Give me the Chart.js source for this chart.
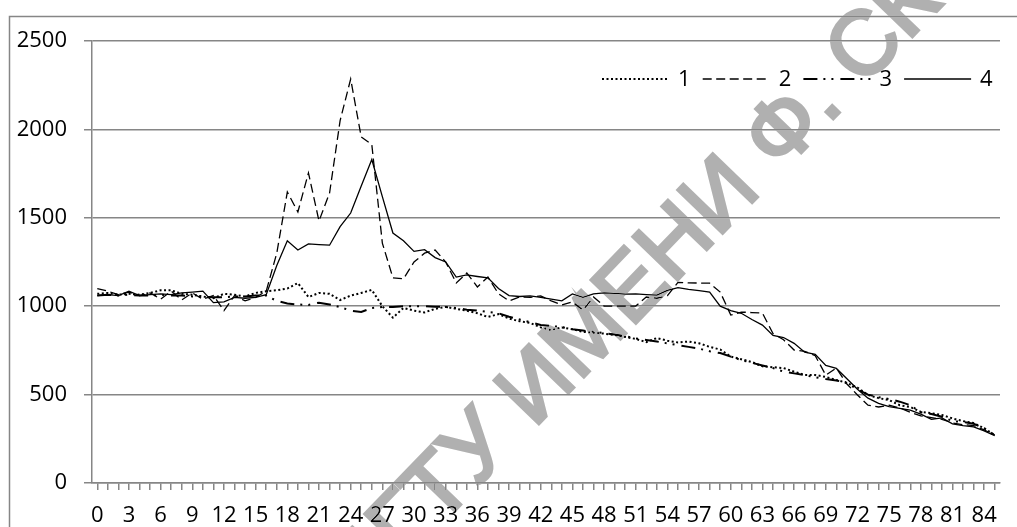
<!DOCTYPE html>
<html>
<head>
<meta charset="utf-8">
<script src="https://cdn.jsdelivr.net/npm/chart.js@4.4.1/dist/chart.umd.min.js"></script>
<style>
    html, body { margin: 0; padding: 0; background: #fff; }
    #wrap { width: 1017px; height: 527px; }
</style>
</head>
<body>
<div id="wrap"><canvas id="lineChart" width="1017" height="527"></canvas></div>
<script>
// x categories
const categories = [0, 1, 2, 3, 4, 5, 6, 7, 8, 9, 10, 11, 12, 13, 14, 15, 16, 17, 18, 19, 20,
    21, 22, 23, 24, 25, 26, 27, 28, 29, 30, 31, 32, 33, 34, 35, 36, 37, 38, 39, 40, 41, 42,
    43, 44, 45, 46, 47, 48, 49, 50, 51, 52, 53, 54, 55, 56, 57, 58, 59, 60, 61, 62, 63, 64,
    65, 66, 67, 68, 69, 70, 71, 72, 73, 74, 75, 76, 77, 78, 79, 80, 81, 82, 83, 84, 85];

const seriesNames = ['1', '2', '3', '4'];

// series 1 (dotted)
const series1 = [1070, 1075, 1065, 1070, 1065, 1075, 1090, 1090, 1070, 1065, 1055, 1045, 1070, 1065,
    1055, 1075, 1085, 1090, 1100, 1131, 1052, 1075, 1070, 1035, 1060, 1075, 1092, 1000, 935, 990,
    975, 965, 985, 996, 985, 975, 960, 939, 955, 930, 915, 905, 880, 865, 880, 870, 855, 850, 845,
    837, 826, 815, 797, 820, 805, 795, 800, 790, 770, 755, 715, 700, 684, 660, 655, 650, 630, 611,
    611, 600, 583, 566, 540, 498, 480, 469, 440, 430, 402, 395, 385, 365, 350, 339, 310, 271];

// series 2 (dashed)
const series2 = [1100, 1085, 1065, 1080, 1060, 1075, 1040, 1085, 1035, 1075, 1040, 1060, 975, 1060,
    1030, 1050, 1085, 1300, 1646, 1533, 1754, 1482, 1640, 2050, 2285, 1957, 1915, 1357, 1160, 1155,
    1250, 1300, 1318, 1250, 1131, 1188, 1109, 1165, 1070, 1030, 1052, 1050, 1058, 1030, 1007, 1024,
    978, 1052, 1001, 1000, 1000, 1001, 1052, 1045, 1060, 1135, 1132, 1131, 1130, 1080, 950, 967,
    964, 961, 845, 810, 752, 745, 720, 610, 650, 560, 498, 440, 430, 440, 425, 400, 380, 370, 360,
    340, 330, 325, 300, 272];

// series 3 (dash-dot-dot)
const series3 = [1060, 1065, 1060, 1065, 1060, 1060, 1065, 1060, 1060, 1055, 1055, 1050, 1050, 1055,
    1055, 1060, 1060, 1030, 1015, 1010, 1007, 1020, 1010, 995, 975, 967, 990, 996, 996, 1000, 1000,
    1000, 997, 996, 990, 980, 975, 967, 960, 940, 925, 910, 894, 888, 882, 870, 862, 855, 848, 840,
    830, 818, 809, 800, 790, 780, 770, 760, 745, 735, 715, 695, 680, 665, 650, 630, 620, 610, 598,
    588, 580, 566, 530, 500, 485, 475, 460, 440, 400, 390, 375, 350, 345, 335, 310, 268];

// series 4 (solid)
const series4 = [1060, 1065, 1060, 1085, 1060, 1065, 1070, 1065, 1075, 1080, 1085, 1020, 1025, 1050,
    1045, 1050, 1065, 1230, 1370, 1318, 1352, 1348, 1345, 1450, 1527, 1680, 1830, 1620, 1414, 1370,
    1310, 1320, 1275, 1250, 1165, 1177, 1168, 1160, 1100, 1060, 1055, 1058, 1050, 1040, 1030, 1069,
    1050, 1070, 1075, 1072, 1068, 1070, 1066, 1063, 1090, 1105, 1095, 1088, 1080, 1000, 975, 960,
    925, 893, 835, 823, 790, 740, 728, 665, 648, 590, 530, 480, 450, 432, 422, 412, 390, 360, 368,
    335, 325, 317, 295, 268];

const watermarkPre = 'БГТУ ';
const watermarkText = 'БГТУ ИМЕНИ Ф. СКОРИНЫ';

document.addEventListener('DOMContentLoaded', function() {
    const fontFamily = '"Open Sans", "Noto Sans", sans-serif';
    const gridColor = '#868686';

    // frame round the whole chart (cut off at right and bottom like the source)
    const framePlugin = {
        id: 'frame',
        beforeDraw(chart) {
            const ctx = chart.ctx;
            ctx.save();
            ctx.fillStyle = '#fff';
            ctx.fillRect(0, 0, chart.width, chart.height);
            ctx.strokeStyle = gridColor;
            ctx.lineWidth = 1.5;
            ctx.strokeRect(9.5, 16.5, chart.width + 20, chart.height + 20);
            ctx.restore();
        }
    };

    // legend inside the plot: line sample first, then the name
    const insideLegend = {
        id: 'insideLegend',
        afterDatasetsDraw(chart) {
            const ctx = chart.ctx;
            const y = 79;
            let x = 602;
            ctx.save();
            chart.data.datasets.forEach(ds => {
                ctx.beginPath();
                ctx.setLineDash(ds.borderDash || []);
                ctx.lineWidth = ds.borderWidth;
                ctx.strokeStyle = ds.borderColor;
                ctx.moveTo(x, y);
                ctx.lineTo(x + 67, y);
                ctx.stroke();
                ctx.setLineDash([]);
                ctx.fillStyle = '#000';
                ctx.font = '22px ' + fontFamily;
                ctx.textBaseline = 'middle';
                ctx.textAlign = 'left';
                ctx.fillText(ds.label, x + 76, y + 1);
                x += 100.7;
            });
            ctx.restore();
        }
    };

    // grey diagonal watermark over everything ('darken' keeps black lines black)
    const watermark = {
        id: 'watermark',
        afterDraw(chart) {
            const ctx = chart.ctx;
            const ang = -46 * Math.PI / 180;
            const size = 90;
            ctx.save();
            ctx.globalCompositeOperation = 'darken';
            ctx.font = size + 'px "Liberation Sans", sans-serif';
            ctx.fillStyle = '#b0b0b0';
            ctx.strokeStyle = '#b0b0b0';
            ctx.lineWidth = 3.5;
            ctx.textBaseline = 'alphabetic';
            const pre = ctx.measureText(watermarkPre).width;
            const wI = ctx.measureText('И').width;
            const ux = Math.cos(ang), uy = Math.sin(ang);
            const nx = -uy, ny = ux;
            const capH = 0.716 * size;
            // centre of the first "И" sits at (533, 383)
            const along = pre + wI / 2;
            const sx = 533 + capH / 2 * nx - along * ux;
            const sy = 383 + capH / 2 * ny - along * uy;
            ctx.translate(sx, sy);
            ctx.rotate(ang);
            ctx.fillText(watermarkText, 0, 0);
            ctx.strokeText(watermarkText, 0, 0);
            ctx.restore();
        }
    };

    const ctx = document.getElementById('lineChart').getContext('2d');

    const lineChart = new Chart(ctx, {
        type: 'line',
        data: {
            labels: categories,
            datasets: [
                {
                    label: seriesNames[0],
                    data: series1,
                    borderColor: '#000',
                    borderWidth: 2,
                    borderDash: [2, 2.5],
                    pointRadius: 0,
                    fill: false
                },
                {
                    label: seriesNames[1],
                    data: series2,
                    borderColor: '#000',
                    borderWidth: 1.3,
                    borderDash: [9, 4.5],
                    pointRadius: 0,
                    fill: false
                },
                {
                    label: seriesNames[2],
                    data: series3,
                    borderColor: '#000',
                    borderWidth: 2,
                    borderDash: [14, 6, 2, 6, 2, 7],
                    pointRadius: 0,
                    fill: false
                },
                {
                    label: seriesNames[3],
                    data: series4,
                    borderColor: '#000',
                    borderWidth: 1.3,
                    pointRadius: 0,
                    fill: false
                }
            ]
        },
        options: {
            responsive: false,
            animation: false,
            devicePixelRatio: 1,
            layout: {
                padding: { top: 41, right: 17, left: 0, bottom: 0 }
            },
            plugins: {
                legend: { display: false },
                tooltip: { enabled: false }
            },
            scales: {
                x: {
                    offset: true,
                    grid: {
                        offset: false,
                        drawOnChartArea: false,
                        drawTicks: true,
                        tickLength: 7,
                        color: gridColor,
                        lineWidth: 1.5
                    },
                    border: { color: gridColor, width: 1.5 },
                    ticks: {
                        autoSkip: false,
                        maxRotation: 0,
                        minRotation: 0,
                        padding: 13,
                        color: '#000',
                        font: { family: fontFamily, size: 22 },
                        callback: function(value, index) {
                            return index % 3 === 0 ? String(categories[index]) : '';
                        }
                    },
                    afterFit: function(scale) { scale.height = 44; }
                },
                y: {
                    min: 0,
                    max: 2500,
                    grid: {
                        color: gridColor,
                        lineWidth: 1.5,
                        tickLength: 8
                    },
                    border: { color: gridColor, width: 1.5 },
                    ticks: {
                        stepSize: 500,
                        padding: 17,
                        color: '#000',
                        font: { family: fontFamily, size: 22 },
                        callback: function(value) { return String(value); }
                    },
                    afterFit: function(scale) { scale.width = 92; }
                }
            }
        },
        plugins: [framePlugin, insideLegend, watermark]
    });
});
</script>
</body>
</html>
